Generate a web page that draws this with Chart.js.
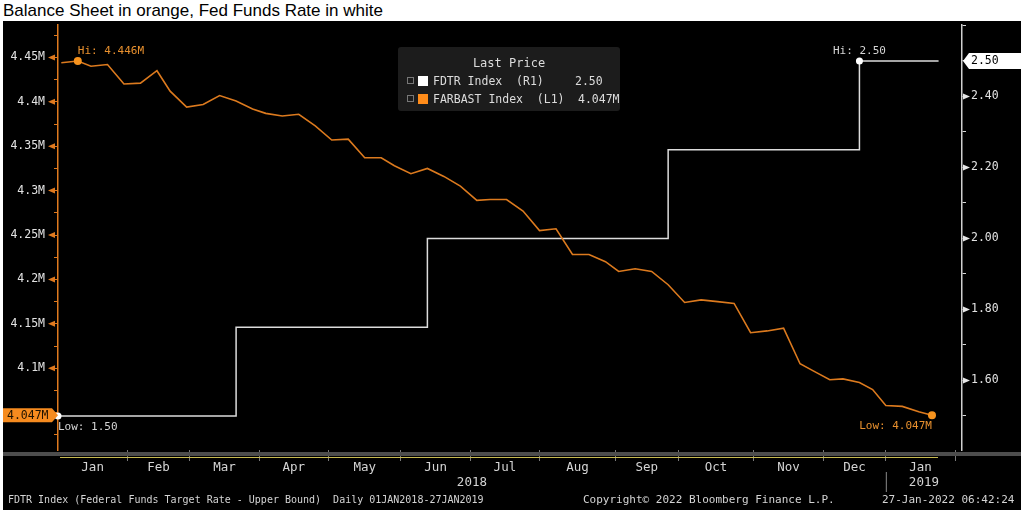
<!DOCTYPE html>
<html>
<head>
<meta charset="utf-8">
<script src="https://cdn.jsdelivr.net/npm/chart.js@4/dist/chart.umd.min.js"></script>
<style>
  html, body { margin: 0; padding: 0; background: #fff; }
  body { width: 1024px; height: 513px; position: relative; overflow: hidden; font-family: "DejaVu Sans Mono", monospace; }
  #title { position: absolute; left: 3px; top: 0; font: 17px "Liberation Sans", Arial, sans-serif; color: #000; line-height: 21px; white-space: nowrap; }
  #panel { position: absolute; left: 3px; top: 21px; width: 1018px; height: 489px; background: #000; }
  #panel canvas { position: absolute; left: 0; top: 0; }
  #legend { position: absolute; left: 395px; top: 26px; width: 222px; height: 64px; background: #1c1c1c; border-radius: 3px; color: #dcdcdc; font-size: 11.5px; }
  #legend .hdr { position: absolute; left: 0; width: 222px; top: 9px; text-align: center; font-size: 12px; }
  #legend .row { position: absolute; left: 0; height: 14px; line-height: 14px; white-space: pre; }
  #legend .plus { position: absolute; left: 9px; top: 3px; width: 5px; height: 5px; border: 1px solid #777; }
  #legend .sw { position: absolute; left: 20px; top: 2px; width: 10px; height: 10px; }
  #legend .name { position: absolute; left: 35px; }
  #legend .val { position: absolute; }
  .foot { position: absolute; top: 472px; line-height: 14px; color: #d4d4d4; white-space: pre; }
</style>
</head>
<body>
<div id="title">Balance Sheet in orange, Fed Funds Rate in white</div>
<div id="panel">
  <canvas id="chart" width="1018" height="489"></canvas>
  <div id="legend">
    <div class="hdr">Last Price</div>
    <div class="row" style="top:27px"><span class="plus"></span><span class="sw" style="background:#ffffff"></span><span class="name">FDTR Index  (R1)</span><span class="val" id="valRate" style="left:177px"></span></div>
    <div class="row" style="top:45px"><span class="plus"></span><span class="sw" style="background:#ff8c1a"></span><span class="name">FARBAST Index  (L1)</span><span class="val" id="valBal" style="left:180px"></span></div>
  </div>
  <div class="foot" style="left:5px;font-size:10px">FDTR Index (Federal Funds Target Rate - Upper Bound)  Daily 01JAN2018-27JAN2019</div>
  <div class="foot" style="left:580px;font-size:11px">Copyright© 2022 Bloomberg Finance L.P.</div>
  <div class="foot" style="left:879px;font-size:11px">27-Jan-2022 06:42:24</div>
</div>
<script>
// ---------------------------------------------------------------------------
// Data
// ---------------------------------------------------------------------------
// FARBAST (Fed balance sheet, weekly)
const balDates = [
    "2018-01-03", "2018-01-10", "2018-01-17", "2018-01-24", "2018-01-31",
    "2018-02-07", "2018-02-14", "2018-02-21", "2018-02-28",
    "2018-03-07", "2018-03-14", "2018-03-21", "2018-03-28",
    "2018-04-04", "2018-04-11", "2018-04-18", "2018-04-25",
    "2018-05-02", "2018-05-09", "2018-05-16", "2018-05-23", "2018-05-30",
    "2018-06-06", "2018-06-13", "2018-06-20", "2018-06-27",
    "2018-07-04", "2018-07-11", "2018-07-18", "2018-07-25",
    "2018-08-01", "2018-08-08", "2018-08-15", "2018-08-22", "2018-08-29",
    "2018-09-05", "2018-09-12", "2018-09-19", "2018-09-26",
    "2018-10-03", "2018-10-10", "2018-10-17", "2018-10-24", "2018-10-31",
    "2018-11-07", "2018-11-14", "2018-11-21", "2018-11-28",
    "2018-12-05", "2018-12-12", "2018-12-19", "2018-12-26",
    "2019-01-02", "2019-01-09", "2019-01-16", "2019-01-23",
];
const balValues = [
    4.444, 4.446, 4.440, 4.442, 4.420, 4.421, 4.435, 4.412, 4.394, 4.397,
    4.407, 4.401, 4.392, 4.387, 4.384, 4.386, 4.373, 4.357, 4.358, 4.337,
    4.337, 4.328, 4.319, 4.325, 4.316, 4.305, 4.289, 4.290, 4.290, 4.277,
    4.255, 4.257, 4.228, 4.228, 4.220, 4.209, 4.212, 4.209, 4.194, 4.174,
    4.177, 4.175, 4.173, 4.140, 4.142, 4.145, 4.105, 4.097, 4.087, 4.088,
    4.084, 4.076, 4.058, 4.057, 4.051, 4.047,
];

// FDTR (fed funds target, upper bound) - step changes
const rateDates = ["2018-01-02", "2018-03-21", "2018-06-13", "2018-09-26", "2018-12-19", "2019-01-25"];
const rateValues = [1.50, 1.75, 2.00, 2.25, 2.50, 2.50];

// x axis labels
const monthStarts = [
    "2018-01-01", "2018-02-01", "2018-03-01", "2018-04-01", "2018-05-01", "2018-06-01", "2018-07-01",
    "2018-08-01", "2018-09-01", "2018-10-01", "2018-11-01", "2018-12-01", "2019-01-01", "2019-02-01",
];
const monthNames = ["Jan", "Feb", "Mar", "Apr", "May", "Jun", "Jul", "Aug", "Sep", "Oct", "Nov", "Dec", "Jan"];
const yearStarts = ["2018-01-01", "2019-01-01", "2020-01-01"];
const yearNames = ["2018", "2019"];

// market holidays skipped by the trading-day axis
const holidays = [
    "2018-01-01", "2018-01-15", "2018-02-19", "2018-03-30", "2018-05-28", "2018-07-04",
    "2018-09-03", "2018-11-22", "2018-12-05", "2018-12-25", "2019-01-01", "2019-01-21",
];

// ---------------------------------------------------------------------------
// Setup
// ---------------------------------------------------------------------------
const ORANGE = "#e07a1f";
const LINE_ORANGE = "#dc7a1e";
const WHITE = "#dcdcdc";
const X_MIN = 0;
const X_MAX = 274.1;
const YL_MIN = 4.0079, YL_MAX = 4.4865;
const YR_MIN = 1.4042, YR_MAX = 2.6014;

const BASE = Date.UTC(2018, 0, 1);
const holidaySet = new Set(holidays);

// trading days elapsed since 01JAN2018 (weekends / holidays map to next session)
function tradeIndex(s) {
    const [y, m, d] = s.split("-").map(Number);
    const target = Date.UTC(y, m - 1, d);
    let n = 0;
    for (let t = BASE; t < target; t += 864e5) {
        const dt = new Date(t);
        const wd = dt.getUTCDay();
        if (wd === 0 || wd === 6) continue;
        if (holidaySet.has(dt.toISOString().slice(0, 10))) continue;
        n++;
    }
    return n;
}

const monthBounds = monthStarts.map(tradeIndex).filter(d => d > X_MIN && d < X_MAX);
const monthMids = [], monthMidLabels = [];
for (let i = 0; i < monthNames.length; i++) {
    const a = Math.max(tradeIndex(monthStarts[i]), X_MIN);
    const b = Math.min(tradeIndex(monthStarts[i + 1]), X_MAX);
    if (b > a) { monthMids.push((a + b) / 2); monthMidLabels.push(monthNames[i]); }
}
const yearMids = [], yearMidLabels = [];
for (let i = 0; i < yearNames.length; i++) {
    const a = Math.max(tradeIndex(yearStarts[i]), X_MIN);
    const b = Math.min(tradeIndex(yearStarts[i + 1]), X_MAX);
    if (b > a) { yearMids.push((a + b) / 2); yearMidLabels.push(yearNames[i]); }
}

const balPoints = balDates.map((d, i) => ({ x: tradeIndex(d), y: balValues[i] }));
const ratePoints = rateDates.map((d, i) => ({ x: tradeIndex(d), y: rateValues[i] }));

function hiLo(arr) {
    let hi = 0, lo = 0;
    arr.forEach((v, i) => { if (v > arr[hi]) hi = i; if (v < arr[lo]) lo = i; });
    return { hi, lo };
}
const balHL = hiLo(balValues);
const rateHL = hiLo(rateValues);
const fmtBal = v => v.toFixed(3) + "M";
const fmtRate = v => v.toFixed(2);

document.getElementById("valRate").textContent = fmtRate(rateValues[rateValues.length - 1]);
document.getElementById("valBal").textContent = fmtBal(balValues[balValues.length - 1]);

// tick lists on exact multiples of the step
function stepTicks(min, max, perUnit) {
    const out = [];
    for (let k = Math.ceil(min * perUnit); k <= Math.floor(max * perUnit); k++) {
        out.push({ value: k / perUnit, major: k % 2 === 0 });
    }
    return out;
}
const yLTicks = stepTicks(YL_MIN, YL_MAX, 40);   // 0.025 steps
const yRTicks = stepTicks(YR_MIN, YR_MAX, 10);   // 0.1 steps

const labelL = t => (t.major && t.value > 4.07) ? parseFloat(t.value.toFixed(3)) + "M" : "";
const labelR = t => (t.major && t.value < 2.45) ? t.value.toFixed(2) : "";

// ---------------------------------------------------------------------------
// Decorations: axis arrows, hi/low notes, last value tags, slider strip
// ---------------------------------------------------------------------------
function noteText(ctx, a, x, y, text, color, above) {
    ctx.font = '11px "DejaVu Sans Mono"';
    const w = ctx.measureText(text).width;
    let align = "center";
    if (x - w / 2 < a.left) align = "left";
    else if (x + w / 2 > a.right) align = "right";
    ctx.textAlign = align;
    ctx.textBaseline = "middle";
    ctx.fillStyle = color;
    ctx.fillText(text, x, above ? y - 10 : y + 11);
}

const decor = {
    id: "decor",
    afterDraw(chart) {
        const { ctx, chartArea: a, scales } = chart;
        const xs = scales.x, yL = scales.yL, yR = scales.yR;
        ctx.save();

        // slider strip under the plot
        ctx.fillStyle = "#4d4d4d";
        ctx.fillRect(0, a.bottom + 2, chart.width, 4);
        ctx.strokeStyle = "#c9bc52";
        ctx.lineWidth = 1.2;
        ctx.beginPath();
        ctx.moveTo(a.left + 2, a.bottom + 7.5);
        ctx.lineTo(a.right - 24, a.bottom + 7.5);
        ctx.stroke();

        // year separator
        const xsep = xs.getPixelForValue(tradeIndex("2019-01-01"));
        ctx.strokeStyle = "#8a8a8a";
        ctx.lineWidth = 1;
        ctx.beginPath();
        ctx.moveTo(xsep + 0.5, a.bottom + 22);
        ctx.lineTo(xsep + 0.5, a.bottom + 42);
        ctx.stroke();

        // major tick arrows
        ctx.fillStyle = ORANGE;
        yLTicks.forEach(t => {
            if (!labelL(t)) return;
            const y = yL.getPixelForValue(t.value);
            ctx.beginPath();
            ctx.moveTo(a.left - 10, y);
            ctx.lineTo(a.left - 3, y - 3);
            ctx.lineTo(a.left - 3, y + 3);
            ctx.closePath();
            ctx.fill();
        });
        ctx.fillStyle = "#e6e6e6";
        yRTicks.forEach(t => {
            if (!labelR(t)) return;
            const y = yR.getPixelForValue(t.value);
            ctx.beginPath();
            ctx.moveTo(a.right + 8, y);
            ctx.lineTo(a.right + 1, y - 3);
            ctx.lineTo(a.right + 1, y + 3);
            ctx.closePath();
            ctx.fill();
        });

        // hi / low notes
        const mb = chart.getDatasetMeta(0).data;
        const mr = chart.getDatasetMeta(1).data;
        noteText(ctx, a, mb[balHL.hi].x, mb[balHL.hi].y, "Hi: " + fmtBal(balValues[balHL.hi]), "#e8902e", true);
        noteText(ctx, a, mb[balHL.lo].x, mb[balHL.lo].y, "Low: " + fmtBal(balValues[balHL.lo]), "#e8902e", false);
        noteText(ctx, a, mr[rateHL.hi].x, mr[rateHL.hi].y, "Hi: " + fmtRate(rateValues[rateHL.hi]), "#d4d4d4", true);
        noteText(ctx, a, mr[rateHL.lo].x, mr[rateHL.lo].y, "Low: " + fmtRate(rateValues[rateHL.lo]), "#d4d4d4", false);

        // last value tags
        const lastBal = balValues[balValues.length - 1];
        let y = yL.getPixelForValue(lastBal);
        ctx.fillStyle = "#f68b1f";
        ctx.beginPath();
        ctx.moveTo(0, y - 7);
        ctx.lineTo(a.left - 6, y - 7);
        ctx.lineTo(a.left, y);
        ctx.lineTo(a.left - 6, y + 7);
        ctx.lineTo(0, y + 7);
        ctx.closePath();
        ctx.fill();
        ctx.fillStyle = "#1e1200";
        ctx.font = '11.5px "DejaVu Sans Mono"';
        ctx.textAlign = "left";
        ctx.textBaseline = "middle";
        ctx.fillText(fmtBal(lastBal), 4, y + 0.5);

        const lastRate = rateValues[rateValues.length - 1];
        y = yR.getPixelForValue(lastRate);
        ctx.fillStyle = "#ffffff";
        ctx.beginPath();
        ctx.moveTo(a.right + 1, y);
        ctx.lineTo(a.right + 7, y - 8);
        ctx.lineTo(chart.width, y - 8);
        ctx.lineTo(chart.width, y + 8);
        ctx.lineTo(a.right + 7, y + 8);
        ctx.closePath();
        ctx.fill();
        ctx.fillStyle = "#000";
        ctx.fillText(fmtRate(lastRate), a.right + 9, y + 0.5);

        ctx.restore();
    },
};

// ---------------------------------------------------------------------------
// Chart
// ---------------------------------------------------------------------------
Chart.defaults.font.family = '"DejaVu Sans Mono", monospace';

const hideHorizPad = s => { s.paddingLeft = 0; s.paddingRight = 0; };
const hideVertPad = s => { s.paddingTop = 0; s.paddingBottom = 0; };

new Chart(document.getElementById("chart"), {
    type: "line",
    data: {
        datasets: [
            {
                label: "FARBAST Index",
                data: balPoints,
                xAxisID: "x",
                yAxisID: "yL",
                borderColor: LINE_ORANGE,
                borderWidth: 1.6,
                tension: 0,
                pointRadius: ctx => (ctx.dataIndex === balHL.hi || ctx.dataIndex === balHL.lo) ? 4 : 0,
                pointBackgroundColor: "#f7931e",
                pointBorderWidth: 0,
            },
            {
                label: "FDTR Index",
                data: ratePoints,
                xAxisID: "x",
                yAxisID: "yR",
                borderColor: WHITE,
                borderWidth: 1.5,
                stepped: "before",
                clip: false,
                pointRadius: ctx => (ctx.dataIndex === rateHL.hi || ctx.dataIndex === rateHL.lo) ? 3.5 : 0,
                pointBackgroundColor: "#ffffff",
                pointBorderWidth: 0,
            },
        ],
    },
    options: {
        responsive: false,
        animation: false,
        layout: { padding: { top: 1, left: 0, right: 0, bottom: 0 } },
        plugins: { legend: { display: false }, tooltip: { enabled: false } },
        scales: {
            x: {
                type: "linear", position: "bottom", weight: 0,
                min: X_MIN, max: X_MAX, bounds: "data",
                afterBuildTicks: s => { s.ticks = monthBounds.map(v => ({ value: v })); },
                afterFit: s => { s.height = 10; hideHorizPad(s); },
                grid: { drawOnChartArea: false, tickLength: 11, tickColor: "#7a7a7a", tickWidth: 1 },
                border: { display: false },
                ticks: { callback: () => "", autoSkip: false, maxRotation: 0, minRotation: 0 },
            },
            xm: {
                type: "linear", position: "bottom", weight: 1,
                min: X_MIN, max: X_MAX, bounds: "data",
                afterBuildTicks: s => { s.ticks = monthMids.map(v => ({ value: v })); },
                afterFit: s => { s.height = 15; hideHorizPad(s); },
                grid: { display: false, drawTicks: false },
                border: { display: false },
                ticks: {
                    callback: (v, i) => monthMidLabels[i],
                    color: "#d4d4d4", font: { size: 12.5 }, padding: 0,
                    autoSkip: false, maxRotation: 0, minRotation: 0,
                },
            },
            xy: {
                type: "linear", position: "bottom", weight: 2,
                min: X_MIN, max: X_MAX, bounds: "data",
                afterBuildTicks: s => { s.ticks = yearMids.map(v => ({ value: v })); },
                afterFit: s => { s.height = 35; hideHorizPad(s); },
                grid: { display: false, drawTicks: false },
                border: { display: false },
                ticks: {
                    callback: (v, i) => yearMidLabels[i],
                    color: "#d4d4d4", font: { size: 12.5 }, padding: 0,
                    autoSkip: false, maxRotation: 0, minRotation: 0,
                },
            },
            yL: {
                type: "linear", position: "left",
                min: YL_MIN, max: YL_MAX, bounds: "data",
                afterBuildTicks: s => { s.ticks = yLTicks.map(t => ({ value: t.value })); },
                afterFit: s => { s.width = 55; hideVertPad(s); },
                grid: { drawOnChartArea: false, tickLength: 4, tickColor: ORANGE, tickWidth: 1 },
                border: { color: ORANGE, width: 1.5 },
                ticks: {
                    autoSkip: false,
                    callback: (v, i) => labelL(yLTicks[i]),
                    color: "#e2e2e2", font: { size: 11.5 }, padding: 9,
                },
            },
            yR: {
                type: "linear", position: "right",
                min: YR_MIN, max: YR_MAX, bounds: "data",
                afterBuildTicks: s => { s.ticks = yRTicks.map(t => ({ value: t.value })); },
                afterFit: s => { s.width = 59; hideVertPad(s); },
                grid: { drawOnChartArea: false, tickLength: 4, tickColor: "#d9d9d9", tickWidth: 1 },
                border: { color: "#cfcfcf", width: 1.5 },
                ticks: {
                    autoSkip: false,
                    callback: (v, i) => labelR(yRTicks[i]),
                    color: "#e2e2e2", font: { size: 11.5 }, padding: 5,
                },
            },
        },
    },
    plugins: [decor],
});
</script>
</body>
</html>
